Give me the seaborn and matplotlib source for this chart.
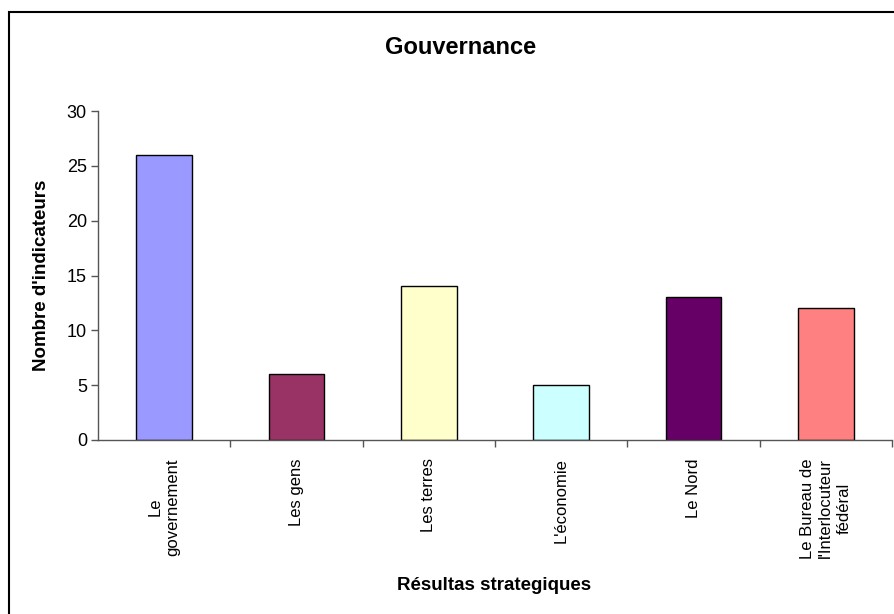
import seaborn as sns
import pandas as pd
import numpy as np
import matplotlib.pyplot as plt
from matplotlib.patches import Rectangle

categories = ['Le\ngovernement', 'Les gens', 'Les terres', "L'économie", 'Le Nord',
              "Le Bureau de\nl'Interlocuteur\nfédéral"]
values = [26, 6, 14, 5, 13, 12]
colors = ['#9999FF', '#993366', '#FFFFCC', '#CCFFFF', '#660066', '#FF8080']

df = pd.DataFrame({'cat': categories, 'val': values})

sns.set_style('white')
plt.rcParams['font.family'] = ['Liberation Sans', 'DejaVu Sans']
plt.rcParams['text.color'] = 'black'
plt.rcParams['axes.labelcolor'] = 'black'
plt.rcParams['xtick.color'] = 'black'
plt.rcParams['ytick.color'] = 'black'

fig = plt.figure(figsize=(8.95, 6.14), dpi=100)
ax = fig.add_axes([98/895, 174/614, 794/895, 329/614])

sns.barplot(data=df, x='cat', y='val', hue='cat', palette=colors, legend=False,
            saturation=1, width=0.42, edgecolor='black', linewidth=1, ax=ax)

ax.set_ylim(0, 30)
ax.set_xlim(-0.5, len(categories) - 0.5)
ax.set_yticks(range(0, 31, 5))
ax.tick_params(axis='y', direction='out', length=5, width=1, color='#555555',
               labelcolor='black', labelsize=13, left=True, pad=3)

ax.set_xticks(range(len(categories)))
ax.set_xticklabels(categories, rotation=90, ha='center', va='top',
                   multialignment='center', fontsize=12, linespacing=1.25)
ax.tick_params(axis='x', length=0, pad=13, labelcolor='black')
ax.set_xticks(np.arange(0.5, len(categories), 1), minor=True)
ax.tick_params(axis='x', which='minor', length=5, width=1, color='#555555', bottom=True)

for s in ['top', 'right']:
    ax.spines[s].set_visible(False)
for s in ['left', 'bottom']:
    ax.spines[s].set_color('#555555')
    ax.spines[s].set_linewidth(1)

ax.set_xlabel('Résultas strategiques', fontsize=13.5, fontweight='bold')
ax.xaxis.set_label_coords((494 - 98) / 794, -(585 - 440) / 329)
ax.set_ylabel("Nombre d'indicateurs", fontsize=13.5, fontweight='bold')
ax.yaxis.set_label_coords(-(98 - 42) / 794, 0.5)
ax.xaxis.label.set_va('center')
ax.yaxis.label.set_va('center')

fig.text(461/895, 1 - 47/614, 'Gouvernance', ha='center', va='center',
         fontsize=17, fontweight='bold', color='black')

fig.patches.append(Rectangle((9/895, -0.05), 1.0, 1 - 12/614 + 0.05,
                             transform=fig.transFigure, fill=False,
                             edgecolor='black', linewidth=1.5))

plt.savefig('out.png', dpi=100)
